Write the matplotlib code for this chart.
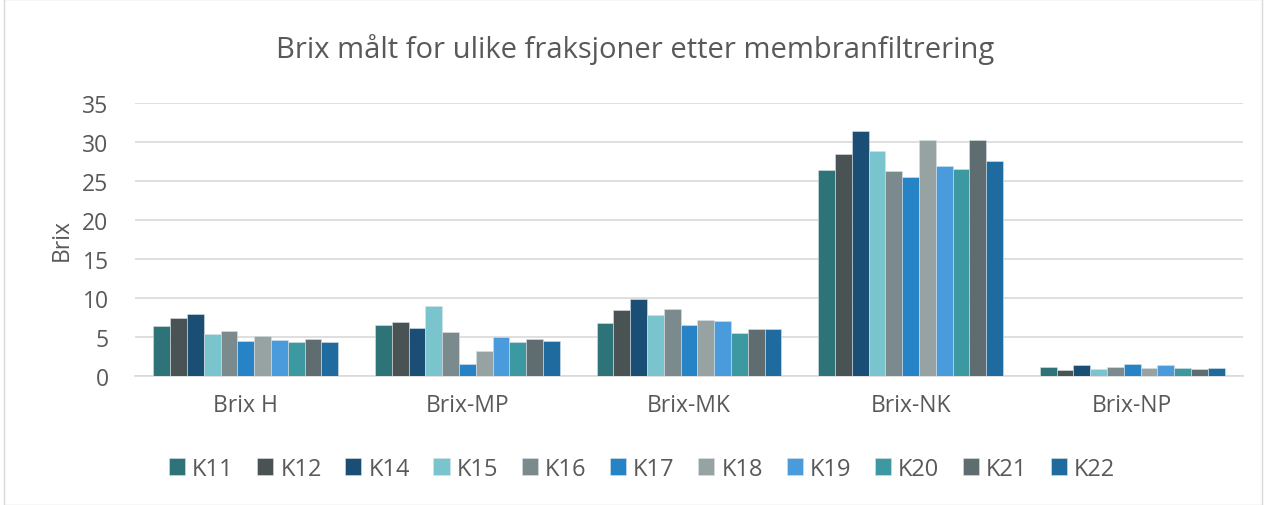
import numpy as np
import matplotlib
matplotlib.use('Agg')
import matplotlib.pyplot as plt
from matplotlib.patches import Rectangle

plt.rcParams['font.family'] = ['Open Sans', 'DejaVu Sans']

# data
categories = ['Brix H', 'Brix-MP', 'Brix-MK', 'Brix-NK', 'Brix-NP']
series = ['K11', 'K12', 'K14', 'K15', 'K16', 'K17', 'K18', 'K19', 'K20', 'K21', 'K22']
k11 = [6.4, 6.5, 6.8, 26.4, 1.1]
k12 = [7.4, 6.9, 8.4, 28.4, 0.8]
k14 = [8.0, 6.1, 9.9, 31.4, 1.4]
k15 = [5.4, 9.0, 7.8, 28.9, 0.9]
k16 = [5.8, 5.6, 8.6, 26.3, 1.1]
k17 = [4.5, 1.6, 6.5, 25.5, 1.5]
k18 = [5.1, 3.2, 7.2, 30.3, 1.0]
k19 = [4.6, 5.0, 7.0, 26.9, 1.4]
k20 = [4.3, 4.3, 5.5, 26.5, 1.0]
k21 = [4.7, 4.7, 6.0, 30.3, 0.9]
k22 = [4.3, 4.5, 6.0, 27.6, 1.0]
values = [k11, k12, k14, k15, k16, k17, k18, k19, k20, k21, k22]

colors = ['#2E7377', '#4A5354', '#1A4E75', '#7AC5CD', '#7B8B8D', '#2683C6',
          '#97A3A3', '#4A9BDC', '#3D99A1', '#5F6D70', '#1F6A9E']

txt = '#595959'

fig = plt.figure(figsize=(12.71, 5.06), dpi=100)
ax = fig.add_axes([135/1271, 1 - 377/506, (1243-135)/1271, (377-104)/506])

x = np.arange(len(categories))
n = len(series)
w = 0.0758
for i, (name, vals) in enumerate(zip(series, values)):
    offs = (i - (n - 1) / 2) * w
    ax.bar(x + offs, vals, w, color=colors[i], label=name,
           edgecolor='#D9E1E6', linewidth=0.4, zorder=3)

ax.set_xlim(-0.5, len(categories) - 0.5)
ax.set_ylim(0, 35)
ax.set_yticks(range(0, 36, 5))
ax.yaxis.grid(True, color='#D9D9D9', linewidth=1.2, zorder=0)
ax.set_xticks(x)
ax.set_xticklabels(categories)
ax.tick_params(axis='both', length=0, labelsize=16.5, colors=txt)
ax.tick_params(axis='x', pad=12)
ax.tick_params(axis='y', pad=19)
for s in ['top', 'right', 'left']:
    ax.spines[s].set_visible(False)
ax.spines['bottom'].set_color('#D9D9D9')
ax.spines['bottom'].set_linewidth(1.2)

ax.set_ylabel('Brix', fontsize=16.5, color=txt, labelpad=6)
fig.text(0.5, 1 - 50/506, 'Brix målt for ulike fraksjoner etter membranfiltrering',
         ha='center', va='center', fontsize=21, color=txt)

fig.legend(loc='center', bbox_to_anchor=(642/1271, 1 - 470/506), ncol=n, frameon=False,
           fontsize=17, labelcolor=txt, handlelength=0.68, handleheight=0.72,
           handletextpad=0.3, columnspacing=1.0)

fig.patches.append(Rectangle((4/1271, 0.0), 1258/1271, 1.0, transform=fig.transFigure,
                             fill=False, edgecolor='#D9D9D9', linewidth=1))

fig.savefig('out.png', dpi=100)
